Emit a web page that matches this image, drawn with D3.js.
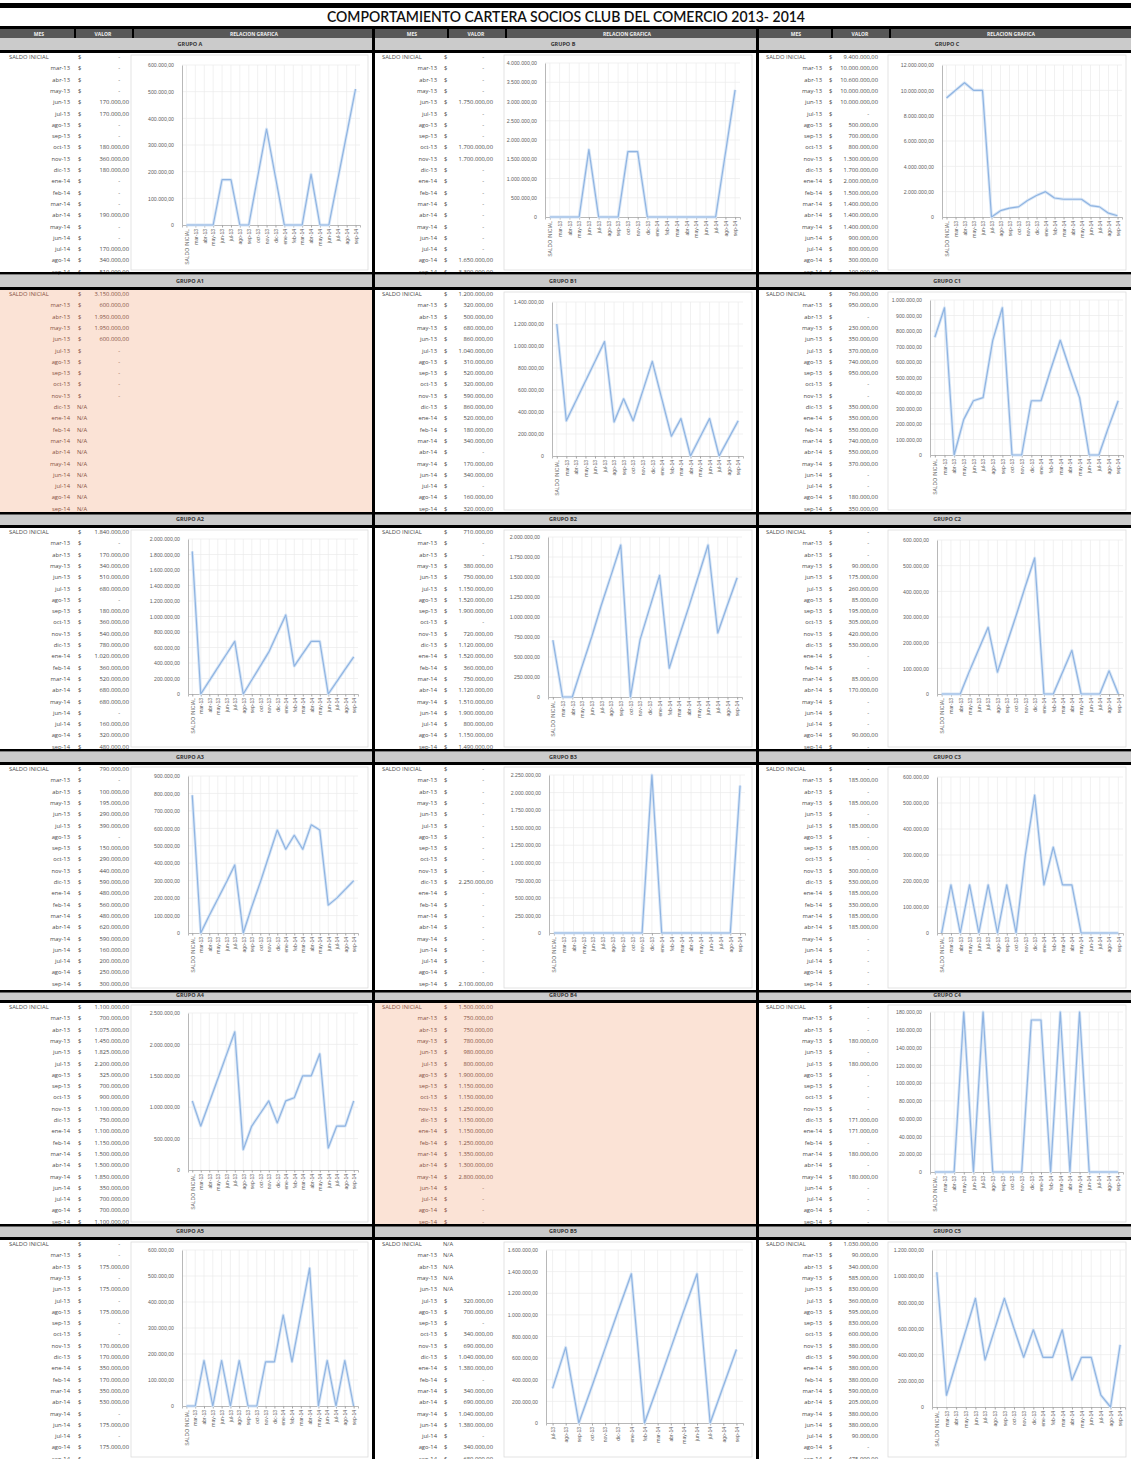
<!DOCTYPE html>
<html lang="es">
<head>
<meta charset="utf-8">
<script src="https://cdn.jsdelivr.net/npm/d3@7"></script>
<style>
  body { margin: 0; background: #ffffff; }
  svg { display: block; font-family: "Open Sans", "Liberation Sans", sans-serif; }
</style>
</head>
<body>
<svg id="hoja" width="1131" height="1459"></svg>
<script>
// ---------- datos ----------
const titulo = "COMPORTAMIENTO CARTERA SOCIOS CLUB DEL COMERCIO 2013- 2014";
const encabezados = ["MES", "VALOR", "RELACION GRAFICA"];

const meses = ["SALDO INICIAL", "mar-13", "abr-13", "may-13", "jun-13", "jul-13", "ago-13", "sep-13",
  "oct-13", "nov-13", "dic-13", "ene-14", "feb-14", "mar-14", "abr-14", "may-14", "jun-14",
  "jul-14", "ago-14", "sep-14"];

const grupos = ["GRUPO A", "GRUPO B", "GRUPO C", "GRUPO A1", "GRUPO B1", "GRUPO C1",
  "GRUPO A2", "GRUPO B2", "GRUPO C2", "GRUPO A3", "GRUPO B3", "GRUPO C3",
  "GRUPO A4", "GRUPO B4", "GRUPO C4", "GRUPO A5", "GRUPO B5", "GRUPO C5"];

// valores mensuales por grupo (null = sin dato, N/A)
const valoresA = [0, 0, 0, 0, 170000, 170000, 0, 0, 180000, 360000, 180000, 0, 0, 0, 190000, 0, 0, 170000, 340000, 510000];
const valoresB = [0, 0, 0, 0, 1750000, 0, 0, 0, 1700000, 1700000, 0, 0, 0, 0, 0, 0, 0, 0, 1650000, 3300000];
const valoresC = [9400000, 10000000, 10600000, 10000000, 10000000, 0, 500000, 700000, 800000, 1300000, 1700000, 2000000, 1500000, 1400000, 1400000, 1400000, 900000, 800000, 300000, 100000];
const valoresD = [3150000, 600000, 1950000, 1950000, 600000, 0, 0, 0, 0, 0, null, null, null, null, null, null, null, null, null, null];
const valoresE = [1200000, 320000, 500000, 680000, 860000, 1040000, 310000, 520000, 320000, 590000, 860000, 520000, 180000, 340000, 0, 170000, 340000, 0, 160000, 320000];
const valoresF = [760000, 950000, 0, 230000, 350000, 370000, 740000, 950000, 0, 0, 350000, 350000, 550000, 740000, 550000, 370000, 0, 0, 180000, 350000];
const valoresG = [1840000, 0, 170000, 340000, 510000, 680000, 0, 180000, 360000, 540000, 780000, 1020000, 360000, 520000, 680000, 680000, 0, 160000, 320000, 480000];
const valoresH = [710000, 0, 0, 380000, 750000, 1150000, 1520000, 1900000, 0, 720000, 1120000, 1520000, 360000, 750000, 1120000, 1510000, 1900000, 800000, 1150000, 1490000];
const valoresI = [0, 0, 0, 90000, 175000, 260000, 85000, 195000, 305000, 420000, 530000, 0, 0, 85000, 170000, 0, 0, 0, 90000, 0];
const valoresJ = [790000, 0, 100000, 195000, 290000, 390000, 0, 150000, 290000, 440000, 590000, 480000, 560000, 480000, 620000, 590000, 160000, 200000, 250000, 300000];
const valoresK = [0, 0, 0, 0, 0, 0, 0, 0, 0, 0, 2250000, 0, 0, 0, 0, 0, 0, 0, 0, 2100000];
const valoresL = [0, 185000, 0, 185000, 0, 185000, 0, 185000, 0, 300000, 530000, 185000, 330000, 185000, 185000, 0, 0, 0, 0, 0];
const valoresM = [1100000, 700000, 1075000, 1450000, 1825000, 2200000, 325000, 700000, 900000, 1100000, 750000, 1100000, 1150000, 1500000, 1500000, 1850000, 350000, 700000, 700000, 1100000];
const valoresN = [0, 0, 0, 180000, 0, 180000, 0, 0, 0, 0, 171000, 171000, 0, 180000, 0, 180000, 0, 0, 0, 0];
const valoresO = [0, 0, 175000, 0, 175000, 0, 175000, 0, 0, 170000, 170000, 350000, 170000, 350000, 530000, 0, 175000, 0, 175000, 0];
const valoresP = [null, null, null, null, null, 320000, 700000, 0, 340000, 690000, 1040000, 1380000, 0, 340000, 690000, 1040000, 1380000, 0, 340000, 680000];
const valoresQ = [1500000, 750000, 750000, 780000, 980000, 800000, 1900000, 1150000, 1150000, 1250000, 1150000, 1150000, 1250000, 1350000, 1300000, 2800000, 0, 0, 0, 0];
const valoresR = [1030000, 90000, 340000, 585000, 830000, 360000, 595000, 830000, 600000, 380000, 590000, 380000, 380000, 590000, 205000, 380000, 380000, 90000, 0, 475000];

// marcas del eje vertical de cada gráfico
const ticksA = [0, 100000, 200000, 300000, 400000, 500000, 600000];
const ticksB = [0, 500000, 1000000, 1500000, 2000000, 2500000, 3000000, 3500000, 4000000];
const ticksC = [0, 2000000, 4000000, 6000000, 8000000, 10000000, 12000000];
const ticksE = [0, 200000, 400000, 600000, 800000, 1000000, 1200000, 1400000];
const ticksF = [0, 100000, 200000, 300000, 400000, 500000, 600000, 700000, 800000, 900000, 1000000];
const ticksG = [0, 200000, 400000, 600000, 800000, 1000000, 1200000, 1400000, 1600000, 1800000, 2000000];
const ticksH = [0, 250000, 500000, 750000, 1000000, 1250000, 1500000, 1750000, 2000000];
const ticksI = [0, 100000, 200000, 300000, 400000, 500000, 600000];
const ticksJ = [0, 100000, 200000, 300000, 400000, 500000, 600000, 700000, 800000, 900000];
const ticksK = [0, 250000, 500000, 750000, 1000000, 1250000, 1500000, 1750000, 2000000, 2250000];
const ticksL = [0, 100000, 200000, 300000, 400000, 500000, 600000];
const ticksM = [0, 500000, 1000000, 1500000, 2000000, 2500000];
const ticksN = [0, 20000, 40000, 60000, 80000, 100000, 120000, 140000, 160000, 180000];
const ticksO = [0, 100000, 200000, 300000, 400000, 500000, 600000];
const ticksP = [0, 200000, 400000, 600000, 800000, 1000000, 1200000, 1400000, 1600000];
const ticksR = [0, 200000, 400000, 600000, 800000, 1000000, 1200000];

// ---------- composición de la hoja ----------
const paneles = [
  { valores: valoresA, ticks: ticksA }, { valores: valoresB, ticks: ticksB }, { valores: valoresC, ticks: ticksC },
  { valores: valoresD, ticks: null },   { valores: valoresE, ticks: ticksE }, { valores: valoresF, ticks: ticksF },
  { valores: valoresG, ticks: ticksG }, { valores: valoresH, ticks: ticksH }, { valores: valoresI, ticks: ticksI },
  { valores: valoresJ, ticks: ticksJ }, { valores: valoresK, ticks: ticksK }, { valores: valoresL, ticks: ticksL },
  { valores: valoresM, ticks: ticksM }, { valores: valoresQ, ticks: null },   { valores: valoresN, ticks: ticksN },
  { valores: valoresO, ticks: ticksO }, { valores: valoresP, ticks: ticksP }, { valores: valoresR, ticks: ticksR }
].map((p, i) => Object.assign(p, { nombre: grupos[i] }));

// geometría: columnas, filas y área de trazado de cada gráfico [eje, derecha, arriba, base]
const W = 1131, H = 1459;
const colX = [0, 373, 757];
const colW = [373, 384, 374];
const filas = [
  { barra: [38, 50], top: 53, bottom: 272 },
  { barra: [275, 287], top: 290, bottom: 512 },
  { barra: [514, 525], top: 528, bottom: 749 },
  { barra: [752, 762], top: 765, bottom: 990 },
  { barra: [991, 1000], top: 1003, bottom: 1224 },
  { barra: [1226, 1237], top: 1240, bottom: 1459 }
];
const cajas = [
  [182, 360, 12, 172], [172, 367, 10, 164], [185, 365, 12, 164],
  null,                [179, 370, 12, 166], [173, 366, 10, 165],
  [188, 358, 11, 166], [175, 369, 9, 169],  [180, 366, 12, 166],
  [188, 358, 11, 168], [176, 372, 10, 168], [180, 366, 12, 168],
  [188, 358, 10, 167], null,                [173, 366, 9, 169],
  [182, 358, 10, 166], [173, 370, 10, 183], [175, 368, 10, 167]
];
// columnas de la tabla: fin del mes, signo $, fin del valor
const tablaCols = [[70, 78, 129], [64, 71, 120], [65, 72, 121]];

const es = d3.formatLocale({ decimal: ",", thousands: ".", grouping: [3], currency: ["$ ", ""] });
const fmt = es.format(",.2f");
const fmtEje = v => v === 0 ? "0" : fmt(v);

const svg = d3.select("#hoja");
svg.append("rect").attr("width", W).attr("height", H).attr("fill", "#ffffff");

// título y encabezado
svg.append("rect").attr("x", 0).attr("y", 3).attr("width", W).attr("height", 5).attr("fill", "#000");
svg.append("text").attr("x", 566).attr("y", 22).attr("text-anchor", "middle")
  .attr("font-family", "Lato, 'Open Sans', sans-serif").attr("font-size", 16).attr("font-weight", 600)
  .attr("textLength", 478).attr("lengthAdjust", "spacingAndGlyphs").attr("fill", "#111").text(titulo);
svg.append("rect").attr("x", 0).attr("y", 26).attr("width", W).attr("height", 3).attr("fill", "#000");
svg.append("rect").attr("x", 0).attr("y", 29).attr("width", W).attr("height", 9).attr("fill", "#585858");

colX.forEach((x0, c) => {
  const enc = svg.append("g").attr("transform", `translate(${x0},0)`);
  [39, 103, 254].forEach((cx, j) => {
    enc.append("text").attr("x", cx).attr("y", 35.5).attr("text-anchor", "middle")
      .attr("font-size", 5).attr("font-weight", 700).attr("fill", "#f2f2f2").text(encabezados[j]);
  });
  [74, 132].forEach(sx => enc.append("rect").attr("x", sx).attr("y", 29).attr("width", 2).attr("height", 13).attr("fill", "#000"));
});

paneles.forEach((p, k) => {
  const r = Math.floor(k / 3), c = k % 3;
  const f = filas[r];
  const x0 = colX[c], w = colW[c];
  const g = svg.append("g").attr("transform", `translate(${x0},0)`);
  const resaltado = p.ticks === null;

  // barra del grupo
  g.append("rect").attr("x", 0).attr("y", f.barra[0]).attr("width", w).attr("height", f.barra[1] - f.barra[0]).attr("fill", "#cbcbcb");
  g.append("text").attr("x", 190).attr("y", (f.barra[0] + f.barra[1]) / 2).attr("dy", "0.35em")
    .attr("text-anchor", "middle").attr("font-size", 5.5).attr("font-weight", 700).attr("fill", "#333").text(p.nombre);
  g.append("rect").attr("x", 0).attr("y", f.barra[1]).attr("width", w).attr("height", 3).attr("fill", "#000");
  if (r > 0) g.append("rect").attr("x", 0).attr("y", filas[r - 1].bottom).attr("width", w).attr("height", 2.5).attr("fill", "#000");

  // fondo
  if (resaltado) {
    g.append("rect").attr("x", 0).attr("y", f.top).attr("width", w).attr("height", f.bottom - f.top).attr("fill", "#fbe3d6");
  }

  // tabla de meses y valores
  const tc = tablaCols[c];
  const colorTxt = resaltado ? "#86503f" : "#4a4a4a";
  const filasTabla = g.append("g").attr("font-size", 5.8).attr("fill", colorTxt);
  meses.forEach((m, i) => {
    const y = f.top + 4 + 11.3 * i;
    if (y > f.bottom + 4) return;
    const v = p.valores[i];
    if (i === 0) {
      filasTabla.append("text").attr("x", 9).attr("y", y).attr("dy", "0.35em").text(m);
    } else {
      filasTabla.append("text").attr("x", tc[0]).attr("y", y).attr("dy", "0.35em").attr("text-anchor", "end").text(m);
    }
    if (v === null) {
      filasTabla.append("text").attr("x", tc[1] - 1).attr("y", y).attr("dy", "0.35em").text("N/A");
    } else {
      filasTabla.append("text").attr("x", tc[1]).attr("y", y).attr("dy", "0.35em").text("$");
      filasTabla.append("text").attr("x", v === 0 ? tc[2] - 9 : tc[2]).attr("y", y).attr("dy", "0.35em")
        .attr("text-anchor", "end").text(v === 0 ? "-" : fmt(v));
    }
  });

  if (resaltado) return;

  // marco del gráfico
  g.append("rect").attr("x", 131).attr("y", f.top + 2).attr("width", w - 136).attr("height", f.bottom - f.top - 4)
    .attr("fill", "#fff").attr("stroke", "#dcdcdc").attr("stroke-width", 0.8);
  // la tabla queda delante del marco
  filasTabla.raise();

  const caja = cajas[k];
  const puntos = p.valores.map((v, i) => ({ mes: meses[i], v })).filter(d => d.v !== null);
  const x = d3.scalePoint().domain(puntos.map(d => d.mes)).range([caja[0], caja[1]]).padding(0.5);
  const y = d3.scaleLinear().domain([0, p.ticks[p.ticks.length - 1]]).range([f.top + caja[3], f.top + caja[2]]);

  // cuadrícula
  const grid = g.append("g").attr("stroke", "#ebebeb").attr("stroke-width", 0.7);
  p.ticks.slice(1).forEach(t => grid.append("line").attr("x1", caja[0]).attr("x2", caja[1]).attr("y1", y(t)).attr("y2", y(t)));
  puntos.forEach(d => grid.append("line").attr("x1", x(d.mes)).attr("x2", x(d.mes)).attr("y1", y.range()[1]).attr("y2", y.range()[0]));

  // eje vertical
  const ejeY = d3.axisLeft(y).tickValues(p.ticks).tickFormat(fmtEje).tickSize(0).tickPadding(8);
  const gy = g.append("g").attr("transform", `translate(${caja[0]},0)`).call(ejeY);
  gy.select(".domain").attr("stroke", "#a6a6a6").attr("stroke-width", 0.8);
  gy.selectAll("text").attr("font-size", 5.2).attr("fill", "#626262").attr("font-family", null);

  // eje horizontal
  const ejeX = d3.axisBottom(x).tickSize(2.5).tickPadding(2);
  const gx = g.append("g").attr("transform", `translate(0,${y(0)})`).call(ejeX);
  gx.select(".domain").attr("stroke", "#a6a6a6").attr("stroke-width", 0.8);
  gx.selectAll(".tick line").attr("stroke", "#a6a6a6");
  gx.selectAll("text").attr("font-size", 5).attr("fill", "#626262").attr("font-family", null)
    .attr("transform", "rotate(-90)").attr("text-anchor", "end").attr("x", -4).attr("y", 0).attr("dy", "0.35em");

  // serie
  const linea = d3.line().x(d => x(d.mes)).y(d => y(d.v));
  g.append("path").datum(puntos).attr("d", linea).attr("fill", "none")
    .attr("stroke", "#d8e6f6").attr("stroke-width", 3).attr("stroke-linejoin", "round");
  g.append("path").datum(puntos).attr("d", linea).attr("fill", "none")
    .attr("stroke", "#8fb4e2").attr("stroke-width", 1.2).attr("stroke-linejoin", "round");
});

// divisiones verticales entre columnas
[372, 756].forEach(vx => svg.append("rect").attr("x", vx).attr("y", 26).attr("width", 3).attr("height", H - 26).attr("fill", "#000"));
</script>
</body>
</html>
